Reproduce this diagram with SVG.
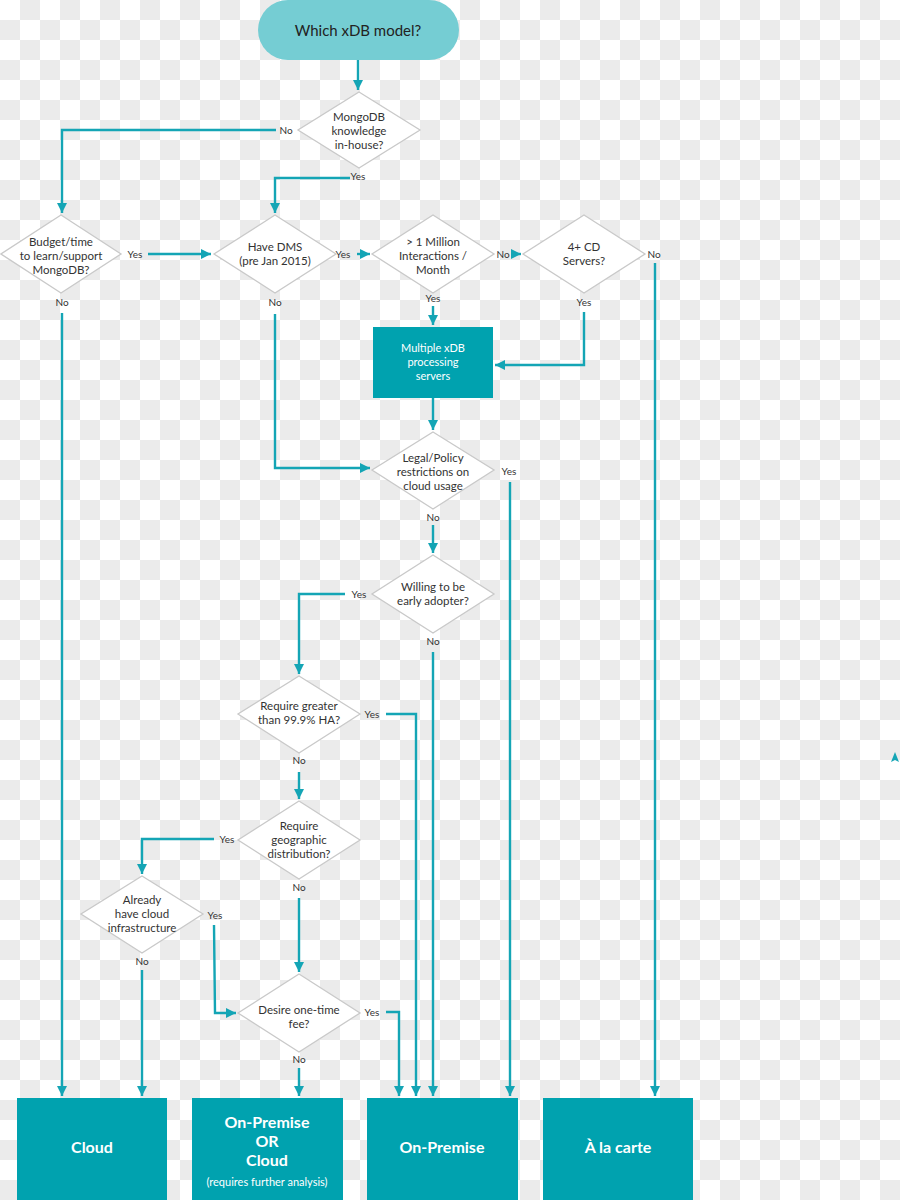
<svg xmlns="http://www.w3.org/2000/svg" width="900" height="1200" viewBox="0 0 900 1200">
<defs>
<pattern id="checker" x="0" y="0" width="40" height="40" patternUnits="userSpaceOnUse">
<rect width="40" height="40" fill="#ffffff"/>
<rect x="20" y="0" width="20" height="20" fill="#ebebeb"/>
<rect x="0" y="20" width="20" height="20" fill="#ebebeb"/>
</pattern>
<marker id="arr" viewBox="0 0 10 10" refX="10" refY="5" markerWidth="4.2" markerHeight="4.2" orient="auto" markerUnits="strokeWidth">
<path d="M0,0 L10,5 L0,10 z" fill="#14a5b5"/>
</marker>
<style>
.ln{fill:none;stroke:#14a5b5;stroke-width:2.4;}
.dm{fill:#ffffff;stroke:#c9c9c9;stroke-width:1.3;}
.dt{font-family:Lato,"Open Sans",sans-serif;font-size:11.5px;fill:#333333;text-anchor:middle;}
.lb{font-family:Lato,"Open Sans",sans-serif;font-size:10px;fill:#333333;text-anchor:middle;}
.bx{fill:#00a2af;}
.bt{font-family:Lato,"Open Sans",sans-serif;font-size:16px;font-weight:bold;fill:#ffffff;text-anchor:middle;}
.st{font-family:Lato,"Open Sans",sans-serif;font-size:11px;fill:#ffffff;text-anchor:middle;}
</style>
</defs>
<rect width="900" height="1200" fill="url(#checker)"/>

<g id="connectors">
<path class="ln" d="M358,60 V90" marker-end="url(#arr)"/>
<path class="ln" d="M276,130 H62 V213" marker-end="url(#arr)"/>
<path class="ln" d="M350,178 H275 V213" marker-end="url(#arr)"/>
<path class="ln" d="M148,254 H211" marker-end="url(#arr)"/>
<path class="ln" d="M357,254 H370" marker-end="url(#arr)"/>
<path class="ln" d="M513,254 H521" marker-end="url(#arr)"/>
<path class="ln" d="M655,263 V1096" marker-end="url(#arr)"/>
<path class="ln" d="M62,313 V1096" marker-end="url(#arr)"/>
<path class="ln" d="M275,314 V468 H370" marker-end="url(#arr)"/>
<path class="ln" d="M433,306 V325" marker-end="url(#arr)"/>
<path class="ln" d="M584,312 V365 H495" marker-end="url(#arr)"/>
<path class="ln" d="M433,398 V430" marker-end="url(#arr)"/>
<path class="ln" d="M510,482 V1096" marker-end="url(#arr)"/>
<path class="ln" d="M433,525 V553" marker-end="url(#arr)"/>
<path class="ln" d="M345,594 H299 V674" marker-end="url(#arr)"/>
<path class="ln" d="M433,652 V1096" marker-end="url(#arr)"/>
<path class="ln" d="M386,714 H416 V1096" marker-end="url(#arr)"/>
<path class="ln" d="M299,772 V799" marker-end="url(#arr)"/>
<path class="ln" d="M214,839 H142 V874" marker-end="url(#arr)"/>
<path class="ln" d="M299,898 V972" marker-end="url(#arr)"/>
<path class="ln" d="M214,925 L215,1013 H236" marker-end="url(#arr)"/>
<path class="ln" d="M142,970 V1096" marker-end="url(#arr)"/>
<path class="ln" d="M386,1012 H399 V1096" marker-end="url(#arr)"/>
<path class="ln" d="M299,1068 V1096" marker-end="url(#arr)"/>
<path d="M895,752 L899,762 L895,760 L891,762 z" fill="#14a5b5"/>
</g>

<g id="labels">
<text class="lb" x="286" y="134">No</text>
<text class="lb" x="358" y="180">Yes</text>
<text class="lb" x="135" y="258">Yes</text>
<text class="lb" x="343" y="258">Yes</text>
<text class="lb" x="503" y="258">No</text>
<text class="lb" x="654" y="258">No</text>
<text class="lb" x="62" y="306">No</text>
<text class="lb" x="275" y="306">No</text>
<text class="lb" x="433" y="302">Yes</text>
<text class="lb" x="584" y="306">Yes</text>
<text class="lb" x="509" y="475">Yes</text>
<text class="lb" x="433" y="521">No</text>
<text class="lb" x="359" y="598">Yes</text>
<text class="lb" x="433" y="645">No</text>
<text class="lb" x="372" y="718">Yes</text>
<text class="lb" x="299" y="764">No</text>
<text class="lb" x="227" y="843">Yes</text>
<text class="lb" x="299" y="891">No</text>
<text class="lb" x="215" y="919">Yes</text>
<text class="lb" x="142" y="965">No</text>
<text class="lb" x="372" y="1016">Yes</text>
<text class="lb" x="299" y="1063">No</text>
</g>

<g id="start">
<rect x="258" y="0" width="201" height="60" rx="30" fill="#75cdd3"/>
<text x="358" y="36" font-family="Lato,'Open Sans',sans-serif" font-size="15" fill="#222222" text-anchor="middle">Which xDB model?</text>
</g>

<g id="q-mongodb">
<polygon class="dm" points="359,92 420,130 359,168 298,130"/>
<text class="dt" x="359" y="121">MongoDB</text>
<text class="dt" x="359" y="135">knowledge</text>
<text class="dt" x="359" y="149">in-house?</text>
</g>

<g id="q-budget">
<polygon class="dm" points="61,215 121,254 61,293 1,254"/>
<text class="dt" x="61" y="246">Budget/time</text>
<text class="dt" x="61" y="260">to learn/support</text>
<text class="dt" x="61" y="274">MongoDB?</text>
</g>

<g id="q-dms">
<polygon class="dm" points="275,215 336,254 275,293 214,254"/>
<text class="dt" x="275" y="251">Have DMS</text>
<text class="dt" x="275" y="265">(pre Jan 2015)</text>
</g>

<g id="q-million">
<polygon class="dm" points="433,215 494,254 433,293 372,254"/>
<text class="dt" x="433" y="246">&gt; 1 Million</text>
<text class="dt" x="433" y="260">Interactions /</text>
<text class="dt" x="433" y="274">Month</text>
</g>

<g id="q-cd">
<polygon class="dm" points="584,215 645,254 584,293 523,254"/>
<text class="dt" x="584" y="251">4+ CD</text>
<text class="dt" x="584" y="265">Servers?</text>
</g>

<g id="multiple-xdb">
<rect class="bx" x="373" y="327" width="120" height="71"/>
<text class="st" x="433" y="352">Multiple xDB</text>
<text class="st" x="433" y="366">processing</text>
<text class="st" x="433" y="380">servers</text>
</g>

<g id="q-legal">
<polygon class="dm" points="433,432 494,470 433,509 372,470"/>
<text class="dt" x="433" y="462">Legal/Policy</text>
<text class="dt" x="433" y="476">restrictions on</text>
<text class="dt" x="433" y="490">cloud usage</text>
</g>

<g id="q-early">
<polygon class="dm" points="433,555 494,594 433,633 372,594"/>
<text class="dt" x="433" y="591">Willing to be</text>
<text class="dt" x="433" y="605">early adopter?</text>
</g>

<g id="q-ha">
<polygon class="dm" points="299,676 360,714 299,753 238,714"/>
<text class="dt" x="299" y="710">Require greater</text>
<text class="dt" x="299" y="724">than 99.9% HA?</text>
</g>

<g id="q-geo">
<polygon class="dm" points="299,801 360,840 299,879 238,840"/>
<text class="dt" x="299" y="830">Require</text>
<text class="dt" x="299" y="844">geographic</text>
<text class="dt" x="299" y="858">distribution?</text>
</g>

<g id="q-cloudinfra">
<polygon class="dm" points="142,876 203,914 142,953 81,914"/>
<text class="dt" x="142" y="904">Already</text>
<text class="dt" x="142" y="918">have cloud</text>
<text class="dt" x="142" y="932">infrastructure</text>
</g>

<g id="q-fee">
<polygon class="dm" points="299,974 360,1013 299,1052 238,1013"/>
<text class="dt" x="299" y="1014">Desire one-time</text>
<text class="dt" x="299" y="1028">fee?</text>
</g>

<g id="r-cloud">
<rect class="bx" x="17" y="1098" width="150" height="102"/>
<text class="bt" x="92" y="1153">Cloud</text>
</g>

<g id="r-either">
<rect class="bx" x="192" y="1098" width="151" height="102"/>
<text class="bt" x="267" y="1128">On-Premise</text>
<text class="bt" x="267" y="1147">OR</text>
<text class="bt" x="267" y="1166">Cloud</text>
<text class="st" x="267" y="1186">(requires further analysis)</text>
</g>

<g id="r-onprem">
<rect class="bx" x="367" y="1098" width="151" height="102"/>
<text class="bt" x="442" y="1153">On-Premise</text>
</g>

<g id="r-alacarte">
<rect class="bx" x="543" y="1098" width="150" height="102"/>
<text class="bt" x="618" y="1153">À la carte</text>
</g>
</svg>
